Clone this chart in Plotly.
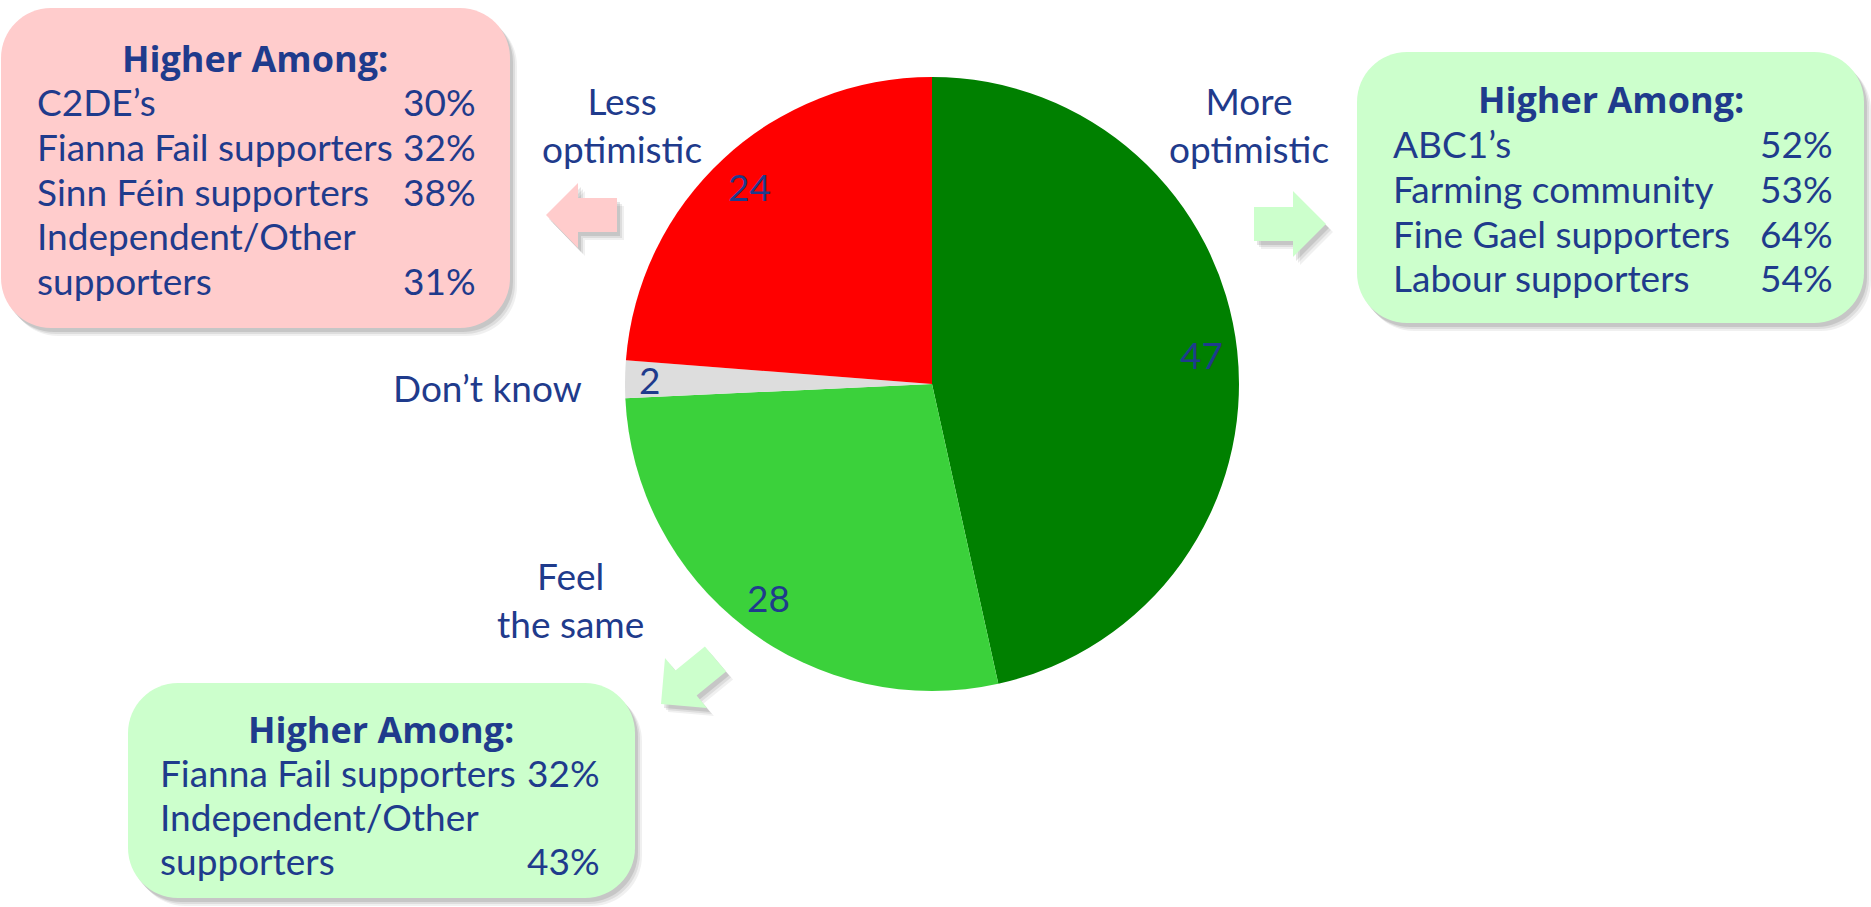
import math
import plotly.graph_objects as go

# Canvas size in pixels
W, H = 1871, 907

# Pie data
categories = ["More optimistic", "Feel the same", "Don’t know", "Less optimistic"]
values = [47, 28, 2, 24]
slice_colors = ["#008000", "#3BD13B", "#DDDDDD", "#FF0000"]

# "Higher Among" panels
more_groups = ["ABC1’s", "Farming community", "Fine Gael supporters", "Labour supporters"]
more_pcts = [52, 53, 64, 54]
less_groups = ["C2DE’s", "Fianna Fail supporters", "Sinn Féin supporters", "Independent/Other\nsupporters"]
less_pcts = [30, 32, 38, 31]
same_groups = ["Fianna Fail supporters", "Independent/Other\nsupporters"]
same_pcts = [32, 43]

TEXT = "#1F3B8C"
FONT = "Lato"
HEAD_FONT = "Open Sans"
FS = 37          # body text size
FS_HEAD = 36     # heading size

# Pie geometry (pixels)
CX, CY, R = 932, 384, 307


def px(x):
    return x / W


def py(y):
    return 1 - y / H


def pt(x, y):
    return f"{px(x):.6f},{py(y):.6f}"


def rrect_path(x0, y0, x1, y1, r):
    k = 0.5523 * r
    return (
        f"M {pt(x0 + r, y0)} L {pt(x1 - r, y0)} "
        f"C {pt(x1 - r + k, y0)} {pt(x1, y0 + r - k)} {pt(x1, y0 + r)} "
        f"L {pt(x1, y1 - r)} "
        f"C {pt(x1, y1 - r + k)} {pt(x1 - r + k, y1)} {pt(x1 - r, y1)} "
        f"L {pt(x0 + r, y1)} "
        f"C {pt(x0 + r - k, y1)} {pt(x0, y1 - r + k)} {pt(x0, y1 - r)} "
        f"L {pt(x0, y0 + r)} "
        f"C {pt(x0, y0 + r - k)} {pt(x0 + r - k, y0)} {pt(x0 + r, y0)} Z"
    )


def poly_path(points):
    return "M " + " L ".join(pt(x, y) for x, y in points) + " Z"


shapes = []


def add_shadowed(path_fn, fill, *args):
    # soft drop shadow: stacked translucent copies offset down-right
    for d, a in [(7, 0.06), (5, 0.08), (3, 0.10)]:
        shapes.append(dict(type="path", xref="paper", yref="paper",
                           path=path_fn(*args, dx=d, dy=d + 1),
                           fillcolor=f"rgba(0,0,0,{a})", line=dict(width=0), layer="below"))
    shapes.append(dict(type="path", xref="paper", yref="paper",
                       path=path_fn(*args, dx=0, dy=0),
                       fillcolor=fill, line=dict(width=0), layer="below"))


def box(x0, y0, x1, y1, r, dx=0, dy=0):
    return rrect_path(x0 + dx, y0 + dy, x1 + dx, y1 + dy, r)


def arrow(points, dx=0, dy=0):
    return poly_path([(x + dx, y + dy) for x, y in points])


# Panels
add_shadowed(box, "#FFCCCC", 1, 8, 510, 328, 50)
add_shadowed(box, "#CCFFCC", 1357, 52, 1864, 323, 50)
add_shadowed(box, "#CCFFCC", 128, 683, 635, 898, 50)

# Arrows
left_arrow = [(546, 215), (578, 183), (578, 198), (617, 198), (617, 232), (578, 232), (578, 248)]
right_arrow = [(1326, 224), (1293, 191), (1293, 207), (1254, 207), (1254, 241), (1293, 241), (1293, 257)]
diag_arrow = [(661, 704), (665, 658), (675.4, 670.4), (704.9, 646.4), (726.1, 671.6), (696.6, 695.6), (707, 708)]
add_shadowed(arrow, "#FFCCCC", left_arrow)
add_shadowed(arrow, "#CCFFCC", right_arrow)
add_shadowed(arrow, "#CCFFCC", diag_arrow)

annotations = []


def text(x, baseline, s, anchor="center", size=FS, bold=False, family=FONT, align="center"):
    cap = 0.7165 * size
    annotations.append(dict(
        x=px(x), y=py(baseline - cap / 2), xref="paper", yref="paper",
        text=f"<b>{s}</b>" if bold else s, showarrow=False,
        xanchor=anchor, yanchor="middle", align=align,
        font=dict(family=family, size=size, color=TEXT),
    ))


def panel(cx, head_base, left, right, first_base, step, groups, pcts):
    text(cx, head_base, "Higher Among:", size=FS_HEAD, bold=True, family=HEAD_FONT)
    row = 0
    for g, p in zip(groups, pcts):
        lines = g.split("\n")
        for ln in lines:
            text(left, first_base + row * step, ln, anchor="left")
            row += 1
        text(right, first_base + (row - 1) * step, f"{p}%", anchor="right")


panel(255, 71, 35, 478, 115, 44.7, less_groups, less_pcts)
panel(1611, 112, 1391, 1835, 157, 44.7, more_groups, more_pcts)
panel(381, 742, 158, 602, 786, 44, same_groups, same_pcts)

# Category captions around the pie (two-line blocks, y given as mean baseline)
text(622, 138, "Less<br>optimistic")
text(1249, 138, "More<br>optimistic")
text(570, 613, "Feel<br>the same")
text(487, 401, "Don’t know")

# Value labels placed near the outer edge of each slice
total = sum(values)
cum = 0
for v in values:
    theta = 2 * math.pi * (cum + v / 2) / total
    ux, uy = math.sin(theta), -math.cos(theta)
    half_w = 10 * len(str(v))
    proj = abs(ux) * half_w + abs(uy) * 15
    rho = R - 14 - proj
    lx, ly = CX + rho * ux, CY + rho * uy
    annotations.append(dict(
        x=px(lx), y=py(ly), xref="paper", yref="paper", text=str(v),
        showarrow=False, xanchor="center", yanchor="middle",
        font=dict(family=FONT, size=FS, color=TEXT),
    ))
    cum += v

fig = go.Figure(go.Pie(
    labels=categories, values=values, sort=False, direction="clockwise", rotation=0,
    marker=dict(colors=slice_colors, line=dict(width=0)),
    textinfo="none", hoverinfo="label+value", showlegend=False,
    domain=dict(x=[px(CX - R), px(CX + R)], y=[py(CY + R), py(CY - R)]),
))

fig.update_layout(
    width=W, height=H, margin=dict(l=0, r=0, t=0, b=0),
    paper_bgcolor="white", plot_bgcolor="white",
    shapes=shapes, annotations=annotations, showlegend=False,
)

fig.write_html("out.html")
